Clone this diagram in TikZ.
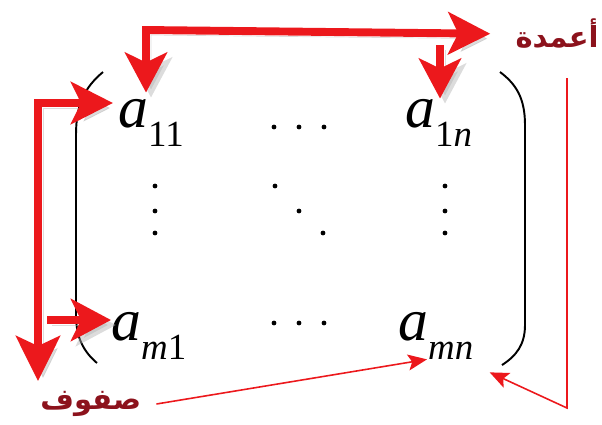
\documentclass[tikz,border=0pt]{standalone}
\usepackage{fontspec}
\setmainfont{Liberation Serif}
\newfontfamily\arabicfont[Script=Arabic]{DejaVu Sans}
\TeXXeTstate=1
\usetikzlibrary{arrows.meta,positioning}

\definecolor{arrowred}{RGB}{236,24,28}
\definecolor{labelred}{RGB}{140,18,28}

% entry of the matrix: italic a with a lowered index
\newcommand{\mxa}[1]{\textit{a}\raisebox{-0.38cm}{\fontsize{21}{21}\selectfont #1}}

\begin{document}
\begin{tikzpicture}
   [x=0.02cm, y=-0.02cm,
    entry/.style={anchor=base west, inner sep=0pt, font=\fontsize{34}{36}\selectfont},
    arlabel/.style={inner sep=0pt, text=labelred, font=\arabicfont\bfseries\fontsize{16.5}{18}\selectfont},
    bigarrow/.style={draw=arrowred, line width=4.5pt, line join=miter,
       arrows={-Stealth[length=0.8cm, width=0.84cm, inset=0.2cm]},
       preaction={draw=black!30, opacity=0.45,
          transform canvas={shift={(5,5)}}}},
    thinarrow/.style={draw=arrowred, line width=0.9pt,
       -{Stealth[length=0.38cm, width=0.32cm, inset=0.08cm]}},
    dotfill/.style={fill=black}]
   \useasboundingbox (0,0) rectangle (602,424);

   % the entries
   \node[entry] (a11) at (118,127) {\mxa{11}};
   \node[entry] (a1n) at (405,127) {\mxa{1\textit{n}}};
   \node[entry] (am1) at (111,340) {\mxa{\textit{m}1}};
   \node[entry] (amn) at (398,340) {\mxa{\textit{mn}}};

   % dots
   \foreach \x in {274,299,324} \fill[dotfill] (\x,127) circle (2.4);
   \foreach \x in {274,299,324} \fill[dotfill] (\x,323) circle (2.4);
   \foreach \y in {186,211,233} {
      \fill[dotfill] (155,\y) circle (2.4);
      \fill[dotfill] (445,\y) circle (2.4);
   }
   \fill[dotfill] (275,186) circle (2.4);
   \fill[dotfill] (299,211) circle (2.4);
   \fill[dotfill] (323,233) circle (2.4);

   % parentheses
   \draw[line width=1.1pt] (103,72) .. controls (84,88) and (76,105) .. (76,135)
      -- (76,315) .. controls (76,338) and (84,352) .. (97,363);
   \draw[line width=1.1pt] (500,72) .. controls (516,84) and (525,98) .. (525,125)
      -- (525,325) .. controls (525,345) and (516,356) .. (502,365);

   % labels
   \node[arlabel, anchor=east] (cols) at (599,34) {\beginR أعمدة\endR};
   \node[arlabel, anchor=west] (rows) at (40,404) {\beginR صفوف\endR};

   % thick arrows
   \coordinate (topl) at (146,30);
   \coordinate (topr) at (440,45);
   \coordinate (rowl) at (38,103);
   \coordinate (rowm) at (47,320);
   \draw[bigarrow, arrows={Stealth[length=0.8cm, width=0.84cm, inset=0.2cm]-Stealth[length=0.84cm, width=0.84cm, inset=0.2cm]},
      shorten <=0.12cm, shorten >=0.5cm]
      (topl |- a11.north) -- (topl) -- (cols.west);
   \draw[bigarrow] (topr) -- (topr |- a1n.north);
   \draw[bigarrow, arrows={Stealth[length=0.84cm, width=0.84cm, inset=0.2cm]-Stealth[length=0.9cm, width=0.88cm, inset=0.2cm]},
      shorten <=0.1cm, shorten >=0.2cm]
      (a11.west |- rowl) -- (rowl) -- (rowl |- rows.north);
   \draw[bigarrow] (rowm) -- (am1.west |- rowm);

   % thin arrows
   \coordinate (ctop) at (567,78);
   \coordinate (cturn) at (567,408);
   \draw[thinarrow] ([xshift=0.3cm]rows.east) -- ([xshift=0.58cm]amn.south west);
   \draw[thinarrow] (ctop) -- (cturn) -- ([shift={(16,13)}]amn.south east);
\end{tikzpicture}
\end{document}
